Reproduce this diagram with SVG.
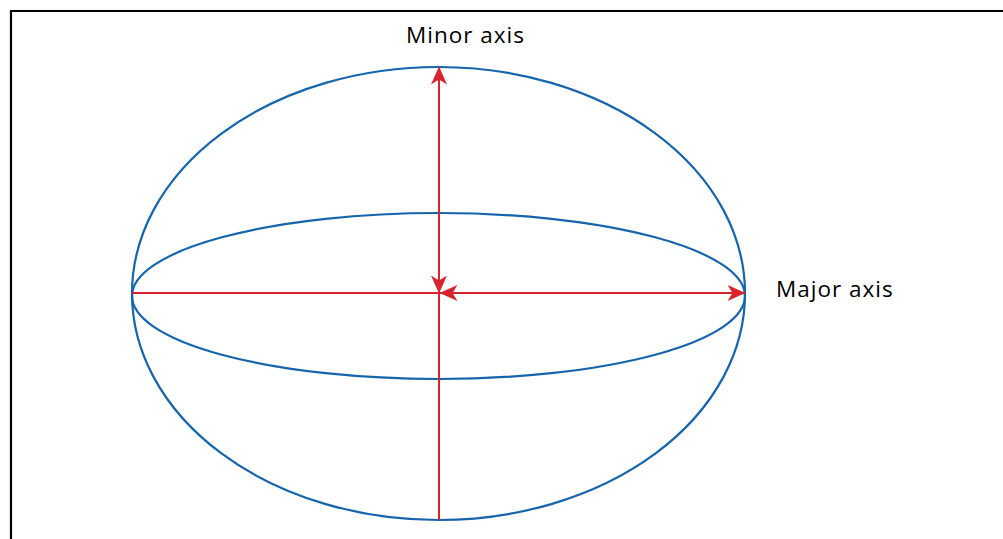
<svg xmlns="http://www.w3.org/2000/svg" width="1003" height="539" viewBox="0 0 1003 539">
<style>
.ell{fill:none;stroke:#1565ad;stroke-width:2.2}
.ax{stroke:#d7242c;stroke-width:2;fill:none}
.lbl{font-family:"Open Sans",sans-serif;font-size:22.5px;letter-spacing:1px;fill:#000}
</style>
<defs>
<marker id="ah" viewBox="0 0 18 16" refX="17.5" refY="8" markerWidth="18" markerHeight="16" markerUnits="userSpaceOnUse" orient="auto">
<path d="M0,0 L18,8 L0,16 L5,8 Z" fill="#d7242c"/>
</marker>
</defs>
<rect width="1003" height="539" fill="#fff"/>
<path d="M11,539 V11 H1003" fill="none" stroke="#000" stroke-width="2.2"/>
<g id="outer"><ellipse class="ell" cx="438.5" cy="293.5" rx="306.5" ry="226.5"/></g>
<g id="inner"><ellipse class="ell" cx="438.5" cy="296" rx="306.5" ry="83"/></g>
<g id="connectors">
<line class="ax" x1="439" y1="520" x2="439" y2="67" marker-end="url(#ah)"/>
<line class="ax" x1="439" y1="150" x2="439" y2="293" marker-end="url(#ah)"/>
<line class="ax" x1="132" y1="293" x2="745" y2="293" marker-end="url(#ah)"/>
<line class="ax" x1="600" y1="293" x2="440" y2="293" marker-end="url(#ah)"/>
</g>
<g id="minor-label"><text class="lbl" x="406" y="43">Minor axis</text></g>
<g id="major-label"><text class="lbl" x="776" y="297">Major axis</text></g>
</svg>
